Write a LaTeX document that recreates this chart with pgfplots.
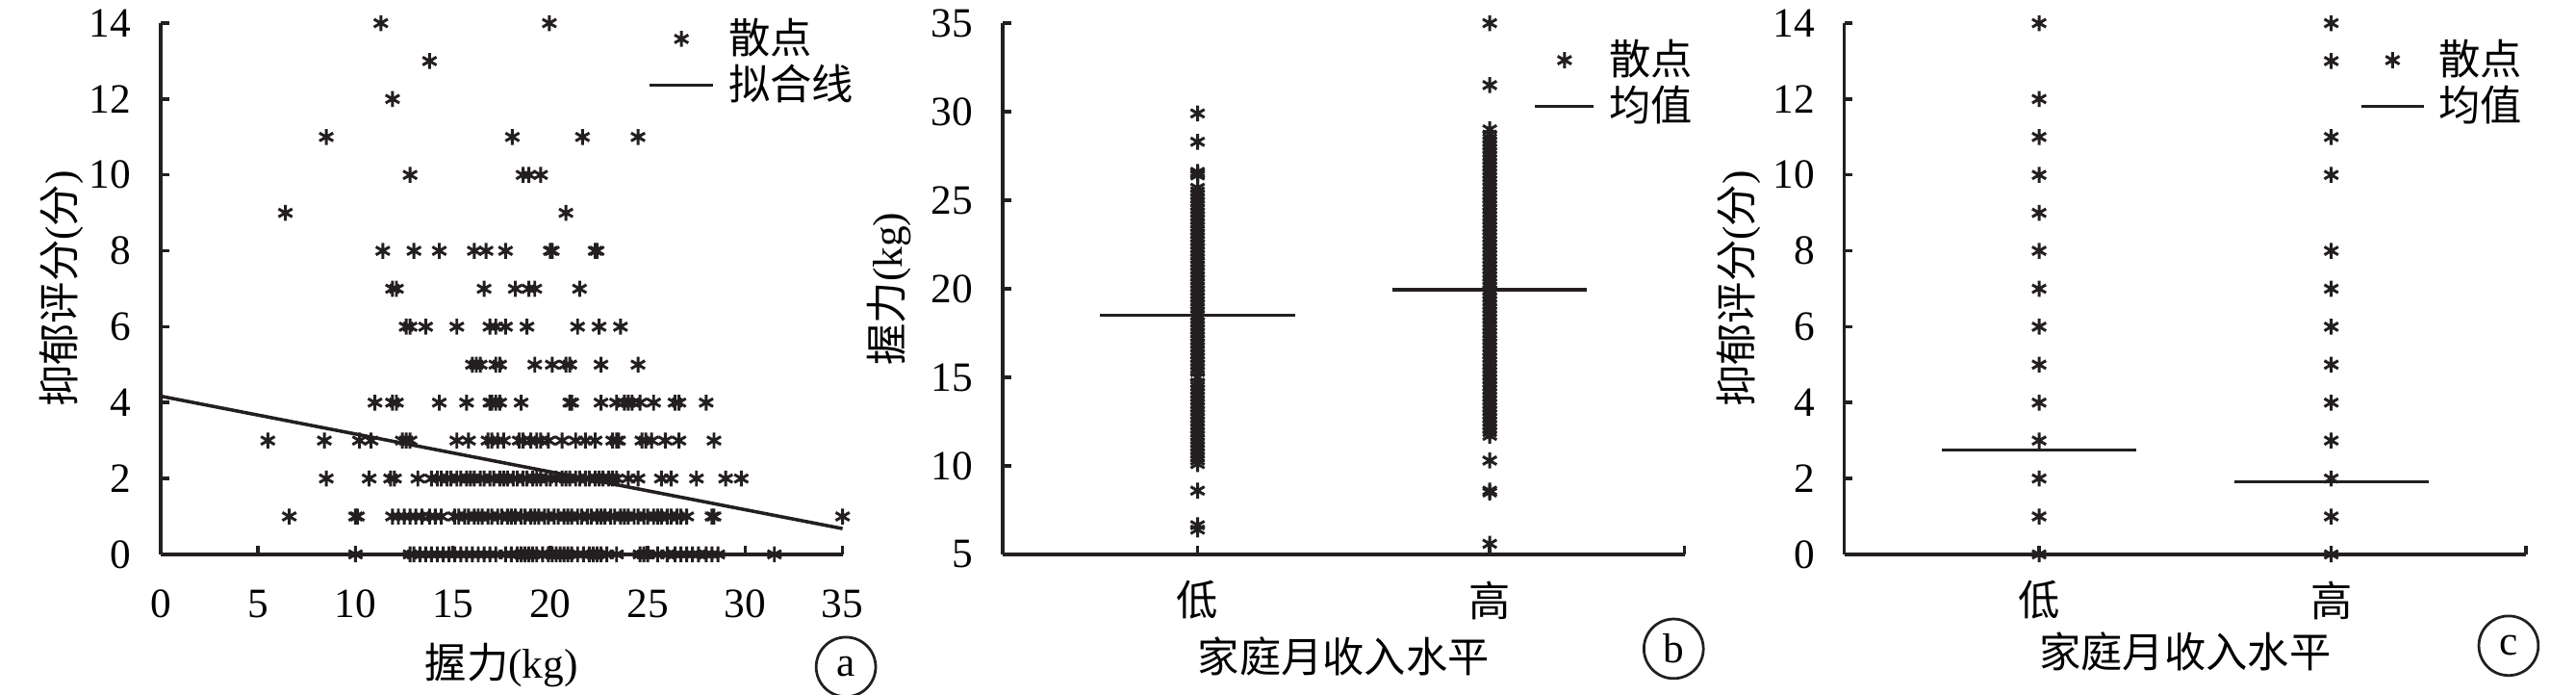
\documentclass[border=0pt]{standalone}
\usepackage{fontspec}
\setmainfont{Liberation Serif}
\newfontfamily\cjk{Noto Sans CJK SC}
\usepackage{pgfplots}
\pgfplotsset{compat=1.18}
\definecolor{ink}{HTML}{231F20}

\pgfplotsset{
  panel/.style={
    scale only axis, width=180pt, height=140.2pt,
    axis lines=left, axis line style={-, line width=0.9pt, ink},
    tick align=inside, major tick length=2.2pt,
    tick style={line width=0.9pt, ink},
    font=\fontsize{11}{13}\selectfont,
    /pgf/number format/assume math mode=true,
    yticklabel style={xshift=-4.3pt},
    xticklabel style={yshift=-5.8pt},
    label style={font=\fontsize{11}{13}\selectfont},
    xlabel style={at={(axis description cs:0.5,-0.208)}, anchor=center},
    ylabel style={at={(axis description cs:-0.145,0.5)}, anchor=center},
    clip=false,
    legend cell align=left,
    legend style={draw=none, fill=none, inner sep=0pt, anchor=north west,
      row sep=1.5pt, nodes={inner sep=0pt}, cells={anchor=west},
      font=\cjk\fontsize{11}{12}\selectfont,
      /tikz/every odd column/.style={column sep=3.6pt}},
  },
  legend len/.style={legend image code/.code={%
    \draw[mark repeat=2,mark phase=2,##1] plot coordinates {(0pt,0pt) (#1/2,0pt) (#1,0pt)};}},
  sc/.style={only marks, mark=asterisk, mark size=2.1pt, color=ink, mark options={line width=0.75pt}},
  ln/.style={color=ink, line width=0.9pt, no marks},
}

\begin{document}
\begin{tikzpicture}
\useasboundingbox (0,0) rectangle (680pt,183.4pt);

% (a) 握力与抑郁评分
\begin{axis}[panel, at={(42.42pt,37.09pt)}, anchor=south west,
  xmin=0, xmax=35, ymin=0, ymax=14,
  xtick={0,5,...,35}, ytick={0,2,...,14},
  xlabel={{\cjk 握力}(kg)}, ylabel={{\cjk 抑郁评分}({\cjk 分})},
  legend len=16.8pt,
  legend style={at={(axis description cs:0.7134,1.010)}}]
\addplot[sc] coordinates {
 (10.0,0) (12.8,0) (13.0,0) (13.3,0) (13.6,0) (13.9,0) (14.2,0) (14.5,0) (14.8,0) (15.1,0) (15.4,0) (15.7,0)
 (16.0,0) (16.3,0) (16.6,0) (16.9,0) (17.2,0) (17.7,0) (18.0,0) (18.3,0) (18.5,0) (18.7,0) (18.9,0) (19.1,0)
 (19.3,0) (19.6,0) (19.9,0) (20.1,0) (20.3,0) (20.5,0) (20.7,0) (20.9,0) (21.1,0) (21.4,0) (21.7,0) (22.0,0)
 (22.2,0) (22.4,0) (22.6,0) (22.9,0) (23.4,0) (24.6,0) (24.8,0) (25.0,0) (25.5,0) (26.0,0) (26.4,0) (26.7,0)
 (27.0,0) (27.3,0) (27.6,0) (28.0,0) (28.3,0) (28.6,0) (31.5,0)
 (6.6,1) (10.0,1) (10.1,1) (11.9,1) (12.2,1) (12.5,1) (12.8,1) (13.1,1) (13.4,1) (13.8,1) (14.1,1) (14.4,1)
 (15.1,1) (15.3,1) (15.6,1) (15.8,1) (16.1,1) (16.3,1) (16.5,1) (16.8,1) (17.0,1) (17.3,1) (17.5,1) (17.8,1)
 (18.0,1) (18.2,1) (18.5,1) (18.7,1) (19.0,1) (19.2,1) (19.4,1) (19.7,1) (19.9,1) (20.2,1) (20.4,1) (20.7,1)
 (20.9,1) (21.1,1) (21.4,1) (21.6,1) (21.9,1) (22.1,1) (22.4,1) (22.6,1) (22.8,1) (23.1,1) (23.3,1) (23.6,1)
 (23.8,1) (24.0,1) (24.3,1) (24.5,1) (24.8,1) (25.0,1) (25.3,1) (25.5,1) (25.7,1) (26.0,1) (26.2,1) (26.5,1)
 (26.7,1) (27.0,1) (28.3,1) (28.4,1) (35.0,1)
 (8.5,2) (10.7,2) (11.8,2) (12.0,2) (13.2,2)
 (13.9,2) (14.2,2) (14.4,2) (14.7,2) (14.9,2) (15.2,2) (15.4,2) (15.7,2) (15.9,2) (16.1,2) (16.4,2) (16.6,2)
 (16.9,2) (17.1,2) (17.4,2) (17.6,2) (17.8,2) (18.1,2) (18.3,2) (18.6,2) (18.8,2) (19.1,2) (19.3,2) (19.5,2)
 (19.8,2) (20.0,2) (20.3,2) (20.6,2) (20.8,2) (21.0,2) (21.3,2) (21.5,2) (21.8,2) (22.0,2) (22.3,2) (22.5,2)
 (22.7,2) (23.0,2) (23.2,2) (23.4,2) (24.0,2) (24.5,2) (25.7,2) (26.2,2) (27.5,2) (29.0,2) (29.8,2)
 (5.5,3) (8.4,3) (10.2,3) (10.8,3) (12.4,3) (12.6,3) (12.8,3) (15.2,3) (15.8,3) (16.8,3) (17.0,3) (17.3,3)
 (17.6,3) (18.4,3) (18.6,3) (19.0,3) (19.3,3) (19.5,3) (19.9,3) (20.6,3) (21.3,3) (21.8,3) (22.3,3) (23.2,3)
 (23.4,3) (23.5,3) (24.7,3) (24.9,3) (25.2,3) (25.9,3) (26.6,3) (28.4,3)
 (11.0,4) (11.9,4) (12.1,4) (14.3,4) (15.7,4) (16.9,4) (17.0,4) (17.2,4) (17.4,4) (18.5,4) (21.0,4) (21.1,4)
 (22.6,4) (23.4,4) (23.8,4) (24.0,4) (24.2,4) (24.6,4) (25.3,4) (26.4,4) (26.6,4) (28.0,4)
 (16.0,5) (16.2,5) (16.4,5) (17.2,5) (17.4,5) (19.2,5) (20.1,5) (20.8,5) (21.0,5) (22.6,5) (24.5,5)
 (12.6,6) (12.8,6) (13.6,6) (15.2,6) (16.9,6) (17.2,6) (17.7,6) (18.8,6) (21.4,6) (22.5,6) (23.6,6)
 (11.9,7) (12.1,7) (16.6,7) (18.2,7) (18.9,7) (19.2,7) (21.5,7)
 (11.4,8) (13.0,8) (14.3,8) (16.1,8) (16.7,8) (17.7,8) (20.0,8) (20.1,8) (22.3,8) (22.4,8)
 (6.4,9) (20.8,9)
 (12.8,10) (18.6,10) (18.9,10) (19.5,10)
 (8.5,11) (18.05,11) (21.65,11) (24.5,11)
 (11.9,12) (13.8,13) (11.3,14) (19.95,14)
};
\addlegendentry{散点}
\addplot[ln] coordinates {(0,4.17) (35,0.68)};
\addlegendentry{拟合线}
\end{axis}

% (b) 家庭月收入水平与握力
\begin{axis}[panel, at={(264.69pt,37.09pt)}, anchor=south west,
  xmin=0.333, xmax=2.667, ymin=5, ymax=35,
  xtick={1,2}, xticklabels={\cjk 低,\cjk 高},
  xticklabel style={yshift=2.3pt},
  extra x ticks={2.667}, extra x tick labels={},
  ytick={5,10,...,35},
  xlabel={\cjk 家庭月收入水平}, ylabel={{\cjk 握力}(kg)},
  xlabel style={at={(axis description cs:0.5,-0.192)}},
  ylabel style={at={(axis description cs:-0.166,0.5)}},
  legend len=15.5pt,
  legend style={at={(axis description cs:0.7773,0.970)}}]
\addplot[sc] coordinates {
 (1,29.9) (1,28.3) (1,26.4) (1,26.5) (1,26.6)
 (1,25.7) (1,25.5) (1,25.3) (1,25.1) (1,24.9) (1,24.7) (1,24.5) (1,24.3) (1,24.1) (1,23.9) (1,23.7) (1,23.5)
 (1,23.3) (1,23.1) (1,22.9) (1,22.7) (1,22.5) (1,22.3) (1,22.1) (1,21.9) (1,21.7) (1,21.5) (1,21.3) (1,21.1)
 (1,20.9) (1,20.7) (1,20.5) (1,20.3) (1,20.1) (1,19.9) (1,19.7) (1,19.5) (1,19.3) (1,19.1) (1,18.9) (1,18.7)
 (1,18.5) (1,18.3) (1,18.1) (1,17.9) (1,17.7) (1,17.5) (1,17.3) (1,17.1) (1,16.9) (1,16.7) (1,16.5) (1,16.3)
 (1,16.1) (1,15.9) (1,15.7) (1,15.5) (1,15.3) (1,15.0) (1,14.7) (1,14.5) (1,14.3) (1,14.1) (1,13.9) (1,13.7)
 (1,13.5) (1,13.3) (1,13.1) (1,12.9) (1,12.7) (1,12.5) (1,12.3) (1,12.1) (1,11.9) (1,11.7) (1,11.5) (1,11.3)
 (1,11.1) (1,10.9) (1,10.7) (1,10.5) (1,10.3) (1,10.1)
 (1,8.6) (1,6.65) (1,6.4)
 (2,35.0) (2,31.5) (2,29.0)
 (2,28.7) (2,28.5) (2,28.3) (2,28.1) (2,27.9) (2,27.7) (2,27.5) (2,27.3) (2,27.1) (2,26.9) (2,26.7) (2,26.5)
 (2,26.3) (2,26.1) (2,25.9) (2,25.7) (2,25.5) (2,25.3) (2,25.1) (2,24.9) (2,24.7) (2,24.5) (2,24.3) (2,24.1)
 (2,23.9) (2,23.7) (2,23.5) (2,23.3) (2,23.1) (2,22.9) (2,22.7) (2,22.5) (2,22.3) (2,22.1) (2,21.9) (2,21.7)
 (2,21.5) (2,21.3) (2,21.1) (2,20.9) (2,20.7) (2,20.5) (2,20.3) (2,20.1) (2,19.9) (2,19.7) (2,19.5) (2,19.3)
 (2,19.1) (2,18.9) (2,18.7) (2,18.5) (2,18.3) (2,18.1) (2,17.9) (2,17.7) (2,17.5) (2,17.3) (2,17.1) (2,16.9)
 (2,16.7) (2,16.5) (2,16.3) (2,16.1) (2,15.9) (2,15.7) (2,15.5) (2,15.3) (2,15.1) (2,14.9) (2,14.7) (2,14.5)
 (2,14.3) (2,14.1) (2,13.9) (2,13.7) (2,13.5) (2,13.3) (2,13.1) (2,12.9) (2,12.7) (2,12.5) (2,12.3) (2,12.1)
 (2,11.9) (2,11.7)
 (2,10.3) (2,8.5) (2,8.6) (2,5.6)
};
\addlegendentry{散点}
\addplot[ln] coordinates {(0.667,18.5) (1.333,18.5)};
\addlegendentry{均值}
\addplot[ln, forget plot] coordinates {(1.667,19.95) (2.333,19.95)};
\end{axis}

% (c) 家庭月收入水平与抑郁评分
\begin{axis}[panel, at={(486.83pt,37.09pt)}, anchor=south west,
  xmin=0.333, xmax=2.667, ymin=0, ymax=14,
  xtick={1,2}, xticklabels={\cjk 低,\cjk 高},
  xticklabel style={yshift=2.3pt},
  extra x ticks={2.667}, extra x tick labels={},
  ytick={0,2,...,14},
  xlabel={\cjk 家庭月收入水平}, ylabel={{\cjk 抑郁评分}({\cjk 分})},
  xlabel style={at={(axis description cs:0.5,-0.182)}},
  ylabel style={at={(axis description cs:-0.155,0.5)}},
  legend len=16.4pt,
  legend style={at={(axis description cs:0.755,0.970)}}]
\addplot[sc] coordinates {
 (1,0) (1,1) (1,2) (1,3) (1,4) (1,5) (1,6) (1,7) (1,8) (1,9) (1,10) (1,11) (1,12) (1,14)
 (2,0) (2,1) (2,2) (2,3) (2,4) (2,5) (2,6) (2,7) (2,8) (2,10) (2,11) (2,13) (2,14)
};
\addlegendentry{散点}
\addplot[ln] coordinates {(0.667,2.75) (1.333,2.75)};
\addlegendentry{均值}
\addplot[ln, forget plot] coordinates {(1.667,1.91) (2.333,1.91)};
\end{axis}

\begin{scope}[every node/.style={draw=ink, circle, line width=0.7pt, minimum size=15.7pt, inner sep=0pt, font=\fontsize{11}{12}\selectfont}]
\node at (223.3pt,7.4pt) {a};
\node at (441.8pt,12.2pt) {b};
\node at (662.2pt,13.0pt) {c};
\end{scope}
\end{tikzpicture}
\end{document}
